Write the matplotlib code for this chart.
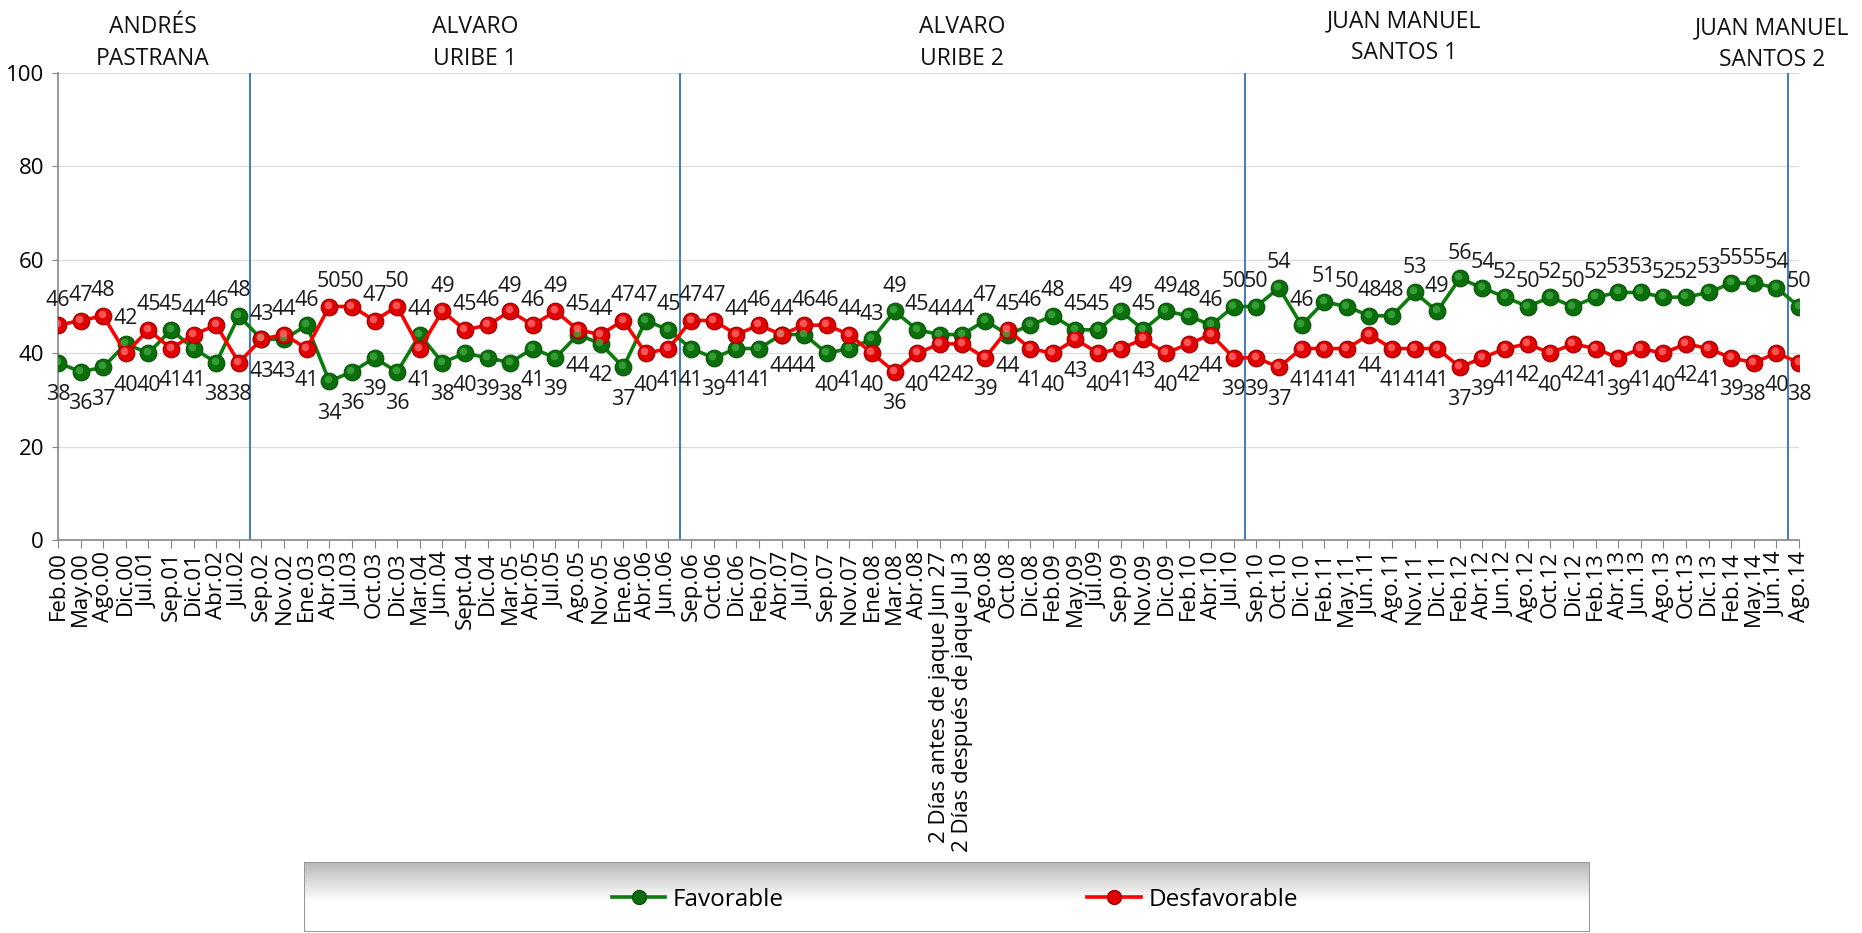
import matplotlib
matplotlib.use("Agg")
import matplotlib.pyplot as plt
import matplotlib.transforms as mtransforms
from matplotlib.lines import Line2D
from matplotlib.patches import Rectangle
import numpy as np

plt.rcParams["font.family"] = ["Open Sans", "DejaVu Sans"]

# categorias del eje x
fechas = [
    "Feb.00", "May.00", "Ago.00", "Dic.00", "Jul.01", "Sep.01", "Dic.01", "Abr.02", "Jul.02",
    "Sep.02", "Nov.02", "Ene.03", "Abr.03", "Jul.03", "Oct.03", "Dic.03", "Mar.04", "Jun.04",
    "Sept.04", "Dic.04", "Mar.05", "Abr.05", "Jul.05", "Ago.05", "Nov.05", "Ene.06", "Abr.06",
    "Jun.06", "Sep.06", "Oct.06", "Dic.06", "Feb.07", "Abr.07", "Jul.07", "Sep.07", "Nov.07",
    "Ene.08", "Mar.08", "Abr.08", "2 Días antes de jaque Jun 27", "2 Días después de jaque Jul 3",
    "Ago.08", "Oct.08", "Dic.08", "Feb.09", "May.09", "Jul.09", "Sep.09", "Nov.09", "Dic.09",
    "Feb.10", "Abr.10", "Jul.10", "Sep.10", "Oct.10", "Dic.10", "Feb.11", "May.11", "Jun.11",
    "Ago.11", "Nov.11", "Dic.11", "Feb.12", "Abr.12", "Jun.12", "Ago.12", "Oct.12", "Dic.12",
    "Feb.13", "Abr.13", "Jun.13", "Ago.13", "Oct.13", "Dic.13", "Feb.14", "May.14", "Jun.14",
    "Ago.14",
]

favorable = [
    38, 36, 37, 42, 40, 45, 41, 38, 48,
    43, 43, 46, 34, 36, 39, 36, 44, 38,
    40, 39, 38, 41, 39, 44, 42, 37, 47,
    45, 41, 39, 41, 41, 44, 44, 40, 41,
    43, 49, 45, 44, 44,
    47, 44, 46, 48, 45, 45, 49, 45, 49,
    48, 46, 50, 50, 54, 46, 51, 50, 48,
    48, 53, 49, 56, 54, 52, 50, 52, 50,
    52, 53, 53, 52, 52, 53, 55, 55, 54,
    50,
]

desfavorable = [
    46, 47, 48, 40, 45, 41, 44, 46, 38,
    43, 44, 41, 50, 50, 47, 50, 41, 49,
    45, 46, 49, 46, 49, 45, 44, 47, 40,
    41, 47, 47, 44, 46, 44, 46, 46, 44,
    40, 36, 40, 42, 42,
    39, 45, 41, 40, 43, 40, 41, 43, 40,
    42, 44, 39, 39, 37, 41, 41, 41, 44,
    41, 41, 41, 37, 39, 41, 42, 40, 42,
    41, 39, 41, 40, 42, 41, 39, 38, 40,
    38,
]

# periodos presidenciales: (texto, centro x en px, centro y en px)
periodos = [
    ("ANDRÉS\nPASTRANA", 153, 43),
    ("ALVARO\nURIBE 1", 475, 43),
    ("ALVARO\nURIBE 2", 962, 43),
    ("JUAN MANUEL\nSANTOS 1", 1404, 37),
    ("JUAN MANUEL\nSANTOS 2", 1772, 44),
]
cortes = [8.5, 27.5, 52.5, 76.5]

W, H = 1862, 933
fig = plt.figure(figsize=(W / 100, H / 100), dpi=100)
ax = fig.add_axes([58 / W, 1 - 540 / H, (1799 - 58) / W, (540 - 73) / H])

x = np.arange(len(fechas))
verde, rojo = "#0b7d0b", "#ff0000"

ax.plot(x, favorable, color=verde, lw=2.6, marker="o", ms=12,
        mfc="#0a6e0a", mec="#075207", mew=0.8, zorder=3, label="Favorable")
ax.plot(x, desfavorable, color=rojo, lw=2.6, marker="o", ms=12,
        mfc="#e00000", mec="#9a0000", mew=0.8, zorder=3, label="Desfavorable")

# brillo de las esferas
brillo = mtransforms.offset_copy(ax.transData, fig=fig, x=-1.5, y=2, units="dots")
ax.plot(x, favorable, ls="none", marker="o", ms=5.5, mfc="#3fa83f", mec="none",
        alpha=0.8, transform=brillo, zorder=4)
ax.plot(x, desfavorable, ls="none", marker="o", ms=5.5, mfc="#ff6a6a", mec="none",
        alpha=0.8, transform=brillo, zorder=4)

# etiquetas de datos
for i in range(len(fechas)):
    f, d = favorable[i], desfavorable[i]
    arriba_f = f > d
    for val, up in ((f, arriba_f), (d, not arriba_f)):
        ax.annotate(str(val), (i, val), xytext=(0, 18 if up else -23),
                    textcoords="offset points", ha="center", va="center",
                    fontsize=15.5, color="#1a1a1a", zorder=5)

for c in cortes:
    ax.axvline(c, color="#4a7ebb", lw=1.5, zorder=2)

ax.set_xlim(0, len(fechas) - 1)
ax.set_ylim(0, 100)
ax.set_yticks([0, 20, 40, 60, 80, 100])
ax.set_xticks(x)
ax.set_xticklabels(fechas, rotation=90, fontsize=16)
ax.tick_params(axis="y", labelsize=16, length=4, color="#868686", pad=6)
ax.tick_params(axis="x", length=6, color="#868686", pad=2)
ax.grid(axis="y", color="#dcdcdc", lw=0.9)
ax.set_axisbelow(True)
for s in ("top", "right"):
    ax.spines[s].set_visible(False)
for s in ("left", "bottom"):
    ax.spines[s].set_color("#868686")
    ax.spines[s].set_linewidth(1.2)

for texto, cx, cy in periodos:
    fig.text(cx / W, 1 - cy / H, texto, ha="center", va="center",
             fontsize=16.5, linespacing=1.45, color="#111111")

# caja de la leyenda con degradado
lx0, lx1, ly0, ly1 = 304, 1590, 862, 932
lax = fig.add_axes([lx0 / W, 1 - ly1 / H, (lx1 - lx0) / W, (ly1 - ly0) / H], zorder=0)
grad = np.concatenate([np.linspace(0.72, 1.0, 40), np.ones(30)])[:, None]
lax.imshow(grad, cmap="gray", vmin=0, vmax=1, aspect="auto",
           extent=(0, 1, 0, 1), interpolation="bilinear")
lax.add_patch(Rectangle((0, 0), 1, 1, transform=lax.transAxes, fill=False,
                        ec="#9a9a9a", lw=1.5))
lax.set_xlim(0, 1)
lax.set_ylim(0, 1)
lax.axis("off")

handles = [
    Line2D([], [], color=verde, lw=2.6, marker="o", ms=10, mfc="#0a6e0a", mec="#075207"),
    Line2D([], [], color=rojo, lw=2.6, marker="o", ms=10, mfc="#e00000", mec="#9a0000"),
]
fig.legend(handles, ["Favorable", "Desfavorable"], loc="center left",
           bbox_to_anchor=(590 / W, 1 - 900 / H), ncol=2, frameon=False,
           fontsize=17.5, handlelength=2.2, handletextpad=0.3, columnspacing=12.5)

fig.savefig("out.png", dpi=100)
